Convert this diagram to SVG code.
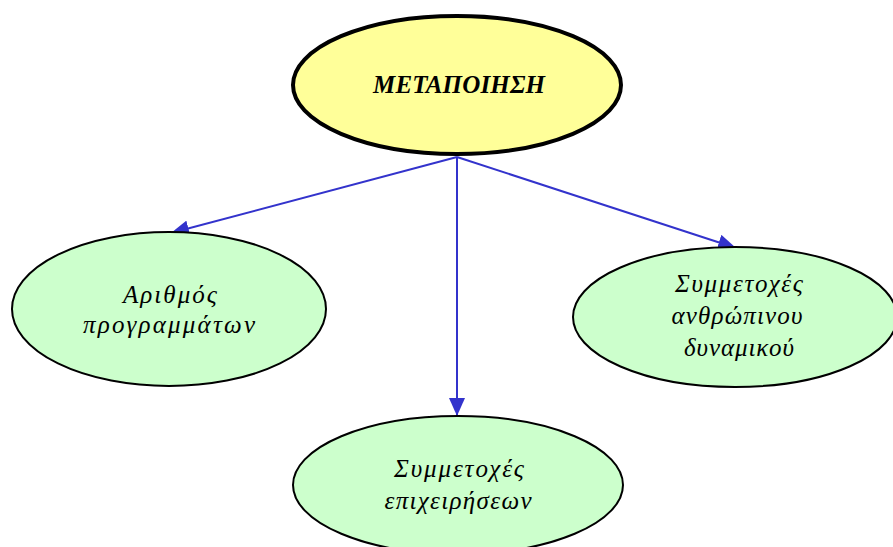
<svg xmlns="http://www.w3.org/2000/svg" width="893" height="547" viewBox="0 0 893 547">
<style>
.n{fill:#CCFFCC;stroke:#000;stroke-width:2}
.t{font-family:"Liberation Serif","DejaVu Serif",serif;font-style:italic;font-size:25px;fill:#000;text-anchor:middle}
.c{stroke:#3333CC;stroke-width:2;fill:none}
</style>
<defs>
<marker id="a" markerWidth="20" markerHeight="16" refX="18" refY="8" orient="auto" markerUnits="userSpaceOnUse">
<path d="M0,0 L18,8 L0,16 Z" fill="#3333CC"/>
</marker>
</defs>
<rect width="893" height="547" fill="#fff"/>
<g id="connectors">
<line class="c" x1="457" y1="157" x2="171" y2="233" marker-end="url(#a)"/>
<line class="c" x1="457" y1="157" x2="457" y2="416" marker-end="url(#a)"/>
<line class="c" x1="457" y1="157" x2="736" y2="248" marker-end="url(#a)"/>
</g>
<g id="n0">
<ellipse cx="457" cy="85" rx="164" ry="69" fill="#FFFF99" stroke="#000" stroke-width="4"/>
<text class="t" x="459" y="93" font-weight="bold" font-size="22" textLength="172" lengthAdjust="spacing">ΜΕΤΑΠΟΙΗΣΗ</text>
</g>
<g id="n1">
<ellipse class="n" cx="169" cy="309" rx="157" ry="77"/>
<text class="t" x="170" y="303" textLength="94" lengthAdjust="spacing">Αριθμός</text>
<text class="t" x="169" y="333" textLength="172" lengthAdjust="spacing">προγραμμάτων</text>
</g>
<g id="n2">
<ellipse class="n" cx="458" cy="485" rx="165" ry="69"/>
<text class="t" x="459" y="477" textLength="130" lengthAdjust="spacing">Συμμετοχές</text>
<text class="t" x="458" y="509" textLength="147" lengthAdjust="spacing">επιχειρήσεων</text>
</g>
<g id="n3">
<ellipse class="n" cx="735" cy="317" rx="162" ry="70"/>
<text class="t" x="739" y="292" textLength="128" lengthAdjust="spacing">Συμμετοχές</text>
<text class="t" x="737" y="324" textLength="131" lengthAdjust="spacing">ανθρώπινου</text>
<text class="t" x="739" y="356" textLength="110" lengthAdjust="spacing">δυναμικού</text>
</g>
</svg>
